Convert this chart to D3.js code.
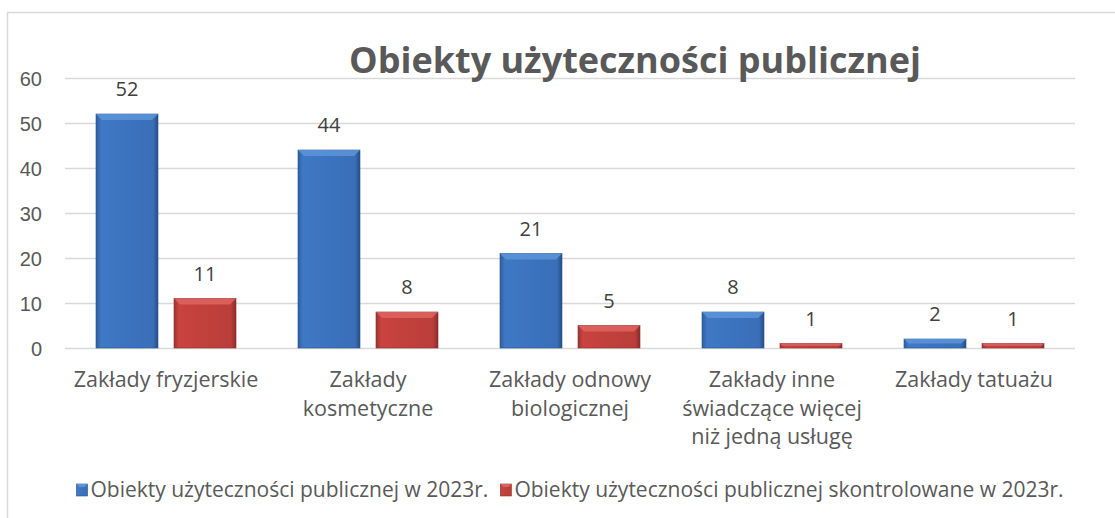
<!DOCTYPE html>
<html>
<head>
<meta charset="utf-8">
<title>Obiekty użyteczności publicznej</title>
<script src="https://d3js.org/d3.v7.min.js"></script>
<style>
body { margin:0; background:#fff; }
svg { font-family: "Open Sans", "Noto Sans", sans-serif; }
.tick text { fill:#595959; font-size:20px; }
.val { fill:#404040; font-size:20px; text-anchor:middle; }
.cat { fill:#595959; font-size:21.5px; text-anchor:middle; }
.legend text { fill:#595959; font-size:21px; }
</style>
</head>
<body>
<script>
// dane
var categories = ["Zakłady fryzjerskie", "Zakłady\nkosmetyczne", "Zakłady odnowy\nbiologicznej",
                  "Zakłady inne\nświadczące więcej\nniż jedną usługę", "Zakłady tatuażu"];
var seriesNames = ["Obiekty użyteczności publicznej w 2023r.",
                   "Obiekty użyteczności publicznej skontrolowane w 2023r."];
var total = [52, 44, 21, 8, 2];
var checked = [11, 8, 5, 1, 1];
var yTicks = [0, 10, 20, 30, 40, 50, 60];

var W = 1115, H = 518;
var svg = d3.select("body").append("svg").attr("width", W).attr("height", H);

// ramka wykresu
svg.append("rect").attr("x", 7.5).attr("y", 12.5).attr("width", 1120).attr("height", 520)
   .attr("fill", "none").attr("stroke", "#d9d9d9").attr("stroke-width", 1.5);

var pLeft = 65, pRight = 1075, pTop = 78, pBottom = 348;
var x = d3.scaleBand().domain(d3.range(categories.length)).range([pLeft, pRight]);
var y = d3.scaleLinear().domain([0, 60]).range([pBottom, pTop]);

// gradienty
var defs = svg.append("defs");
function grad(id, stops) {
  var g = defs.append("linearGradient").attr("id", id).attr("x1", 0).attr("x2", 1).attr("y1", 0).attr("y2", 0);
  stops.forEach(function(s) { g.append("stop").attr("offset", s[0]).attr("stop-color", s[1]); });
}
grad("gBlue", [[0, "#2f5e9e"], [0.08, "#3f78c4"], [0.5, "#3b73bf"], [0.92, "#3a6fb8"], [1, "#254e86"]]);
grad("gRed", [[0, "#9a3431"], [0.08, "#c9433f"], [0.5, "#c0403c"], [0.92, "#bb3e3a"], [1, "#8a2b28"]]);

// siatka
svg.append("g").selectAll("line").data(yTicks).enter().append("line")
   .attr("x1", pLeft).attr("x2", pRight)
   .attr("y1", function(d) { return y(d) + 0.5; }).attr("y2", function(d) { return y(d) + 0.5; })
   .attr("stroke", "#d9d9d9").attr("stroke-width", 1.3);

// oś Y
var yAxis = svg.append("g").attr("transform", "translate(42,0)")
   .call(d3.axisLeft(y).tickValues(yTicks).tickSize(0).tickPadding(0));
yAxis.select(".domain").remove();
yAxis.selectAll("text").attr("dy", "0.35em").attr("font-family", null).attr("font-size", null);

// tytuł
svg.append("text").attr("x", 635).attr("y", 73).attr("text-anchor", "middle")
   .attr("fill", "#595959").attr("font-size", 36).attr("font-weight", "bold")
   .text("Obiekty użyteczności publicznej");

var barW = 62, gap = 16;
var series = [
  { values: total, fill: "url(#gBlue)", light: "#5b92d8", dark: "#2a548f", off: -(barW + gap) / 2 },
  { values: checked, fill: "url(#gRed)", light: "#dd625e", dark: "#8f2d2a", off: (barW + gap) / 2 }
];

series.forEach(function(s) {
  var g = svg.append("g");
  var bars = g.selectAll("g").data(s.values).enter().append("g");
  bars.append("rect")
     .attr("x", function(d, i) { return x(i) + x.bandwidth() / 2 + s.off - barW / 2; })
     .attr("y", function(d) { return y(d); })
     .attr("width", barW)
     .attr("height", function(d) { return pBottom - y(d); })
     .attr("fill", s.fill)
     .attr("stroke", s.dark).attr("stroke-width", 0.6);
  // faza na górze słupka
  bars.append("path")
     .attr("d", function(d, i) {
       var x0 = x(i) + x.bandwidth() / 2 + s.off - barW / 2, x1 = x0 + barW;
       var t = y(d), b = Math.min(6, (pBottom - t) / 2);
       return "M" + x0 + "," + t + "L" + x1 + "," + t + "L" + (x1 - b) + "," + (t + b) + "L" + (x0 + b) + "," + (t + b) + "Z";
     })
     .attr("fill", s.light).attr("opacity", 0.9);
  bars.append("text").attr("class", "val")
     .attr("x", function(d, i) { return x(i) + x.bandwidth() / 2 + s.off; })
     .attr("y", function(d) { return y(d) - 18; })
     .text(function(d) { return d; });
});

// etykiety kategorii
svg.append("g").selectAll("text").data(categories).enter().append("text")
   .attr("class", "cat")
   .attr("x", function(d, i) { return x(i) + x.bandwidth() / 2; })
   .attr("y", 387)
   .each(function(d) {
     var t = d3.select(this);
     d.split("\n").forEach(function(line, k) {
       t.append("tspan").attr("x", t.attr("x")).attr("dy", k ? 28.5 : 0).text(line);
     });
   });

// legenda (wyśrodkowana pod obszarem wykresu)
var legend = svg.append("g").attr("class", "legend");
var items = seriesNames.map(function(n, i) {
  var g = legend.append("g");
  var s = series[i];
  g.append("rect").attr("x", 0).attr("y", 484).attr("width", 11).attr("height", 12)
     .attr("fill", s.fill).attr("stroke", s.dark).attr("stroke-width", 0.6);
  g.append("path").attr("d", "M0,484h11l-3,3h-5z").attr("fill", s.light);
  var t = g.append("text").attr("x", 14).attr("y", 497).text(n);
  return { g: g, w: 14 + t.node().getComputedTextLength() };
});
var sp = 12;
var totW = d3.sum(items, function(d) { return d.w; }) + sp * (items.length - 1);
var cx = (pLeft + pRight) / 2 - totW / 2;
items.forEach(function(it) {
  it.g.attr("transform", "translate(" + cx + ",0)");
  cx += it.w + sp;
});
</script>
</body>
</html>
